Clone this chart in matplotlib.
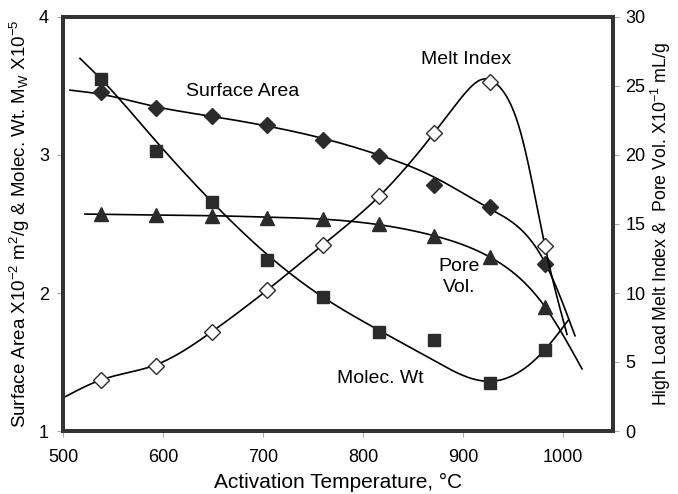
import numpy as np
import matplotlib
matplotlib.use("Agg")
import matplotlib.pyplot as plt

plt.rcParams['font.family'] = ['Liberation Sans', 'DejaVu Sans']
plt.rcParams['mathtext.default'] = 'regular'

# measured points
temps = [538, 593, 649, 704, 760, 816, 871, 927, 982]
surface_area = [3.46, 3.34, 3.28, 3.22, 3.11, 2.99, 2.78, 2.62, 2.21]
molec_wt = [3.55, 3.03, 2.66, 2.24, 1.97, 1.72, 1.66, 1.35, 1.59]
pore_vol = [15.7, 15.65, 15.55, 15.45, 15.35, 15.0, 14.1, 12.6, 9.0]
melt_index = [3.7, 4.7, 7.2, 10.2, 13.5, 17.0, 21.6, 25.3, 13.4]

# trend curves
sa_fit_t = [507, 538, 593, 649, 704, 760, 816, 871, 927, 982, 1012]
sa_fit = [3.47, 3.44, 3.35, 3.28, 3.21, 3.12, 3.00, 2.84, 2.61, 2.22, 1.69]
mw_fit_t = [517, 538, 593, 649, 704, 760, 816, 871, 927, 982, 1005]
mw_fit = [3.70, 3.55, 3.10, 2.66, 2.28, 1.97, 1.73, 1.51, 1.36, 1.59, 1.80]
pv_fit_t = [522, 593, 649, 704, 760, 816, 871, 927, 982, 1019]
pv_fit = [15.72, 15.65, 15.6, 15.5, 15.35, 14.95, 14.15, 12.6, 9.0, 4.5]
mi_fit_t = [500, 538, 593, 649, 704, 760, 816, 871, 900, 920, 937, 957, 972, 982, 1004]
mi_fit = [2.4, 3.7, 4.8, 7.2, 10.2, 13.5, 17.0, 21.6, 24.3, 25.5, 24.9, 21.8, 17.0, 13.4, 7.0]

x_ticks = [500, 600, 700, 800, 900, 1000]
left_ticks = [1, 2, 3, 4]
right_ticks = [0, 5, 10, 15, 20, 25, 30]

fig = plt.figure(figsize=(6.78, 4.94), dpi=100)
ax = fig.add_axes([63/678, 1-431/494, 550/678, 414/494])
ax2 = ax.twinx()

mk = '#2b2b2b'


def natural_spline(x, y, xs):
    x = np.asarray(x, float)
    y = np.asarray(y, float)
    n = len(x)
    h = np.diff(x)
    A = np.zeros((n, n))
    b = np.zeros(n)
    A[0, 0] = 1
    A[-1, -1] = 1
    for i in range(1, n - 1):
        A[i, i - 1] = h[i - 1]
        A[i, i] = 2 * (h[i - 1] + h[i])
        A[i, i + 1] = h[i]
        b[i] = 3 * ((y[i + 1] - y[i]) / h[i] - (y[i] - y[i - 1]) / h[i - 1])
    c = np.linalg.solve(A, b)
    bb = (y[1:] - y[:-1]) / h - h * (2 * c[:-1] + c[1:]) / 3
    d = (c[1:] - c[:-1]) / (3 * h)
    idx = np.clip(np.searchsorted(x, xs) - 1, 0, n - 2)
    dx = xs - x[idx]
    return y[idx] + bb[idx] * dx + c[idx] * dx ** 2 + d[idx] * dx ** 3


def curve(axh, x, y):
    xs = np.linspace(x[0], x[-1], 500)
    axh.plot(xs, natural_spline(x, y, xs), color='black', lw=1.2, zorder=2)


curve(ax, sa_fit_t, sa_fit)
curve(ax, mw_fit_t, mw_fit)
curve(ax2, pv_fit_t, pv_fit)
curve(ax2, mi_fit_t, mi_fit)

ax.plot(temps, surface_area, 'D', color=mk, ms=8, zorder=3)
ax.plot(temps, molec_wt, 's', color=mk, ms=8, zorder=3)
ax2.plot(temps, pore_vol, '^', color=mk, ms=9.5, zorder=3)
ax2.plot(temps, melt_index, 'D', mfc='white', mec=mk, mew=1.0, ms=8, zorder=3)

ax.set_xlim(500, 1050)
ax.set_ylim(1, 4)
ax2.set_ylim(0, 30)
ax.set_xticks(x_ticks)
ax.set_yticks(left_ticks)
ax2.set_yticks(right_ticks)

for a in (ax, ax2):
    for s in a.spines.values():
        s.set_linewidth(2.8)
        s.set_color('#333333')
    a.tick_params(labelsize=13, color='#aaaaaa', length=4, width=0.8, pad=6)
ax.tick_params(axis='x', pad=9)
ax2.tick_params(axis='y', pad=5)

ax.set_xlabel('Activation Temperature, °C', fontsize=15, labelpad=5)
ax.set_ylabel('Surface Area X10$^{-2}$ m$^2$/g & Molec. Wt. M$_W$ X10$^{-5}$', fontsize=13.5, labelpad=5)
ax2.set_ylabel('High Load Melt Index &  Pore Vol. X10$^{-1}$ mL/g', fontsize=12.8, labelpad=2)

fs = 14
ax.text(680, 3.457, 'Surface Area', fontsize=fs, ha='center', va='center')
ax.text(903, 3.69, 'Melt Index', fontsize=fs, ha='center', va='center')
ax.text(896, 2.116, 'Pore\nVol.', fontsize=fs, ha='center', va='center', linespacing=1.25)
ax.text(817, 1.384, 'Molec. Wt', fontsize=fs, ha='center', va='center')

fig.savefig('out.png', dpi=100)
